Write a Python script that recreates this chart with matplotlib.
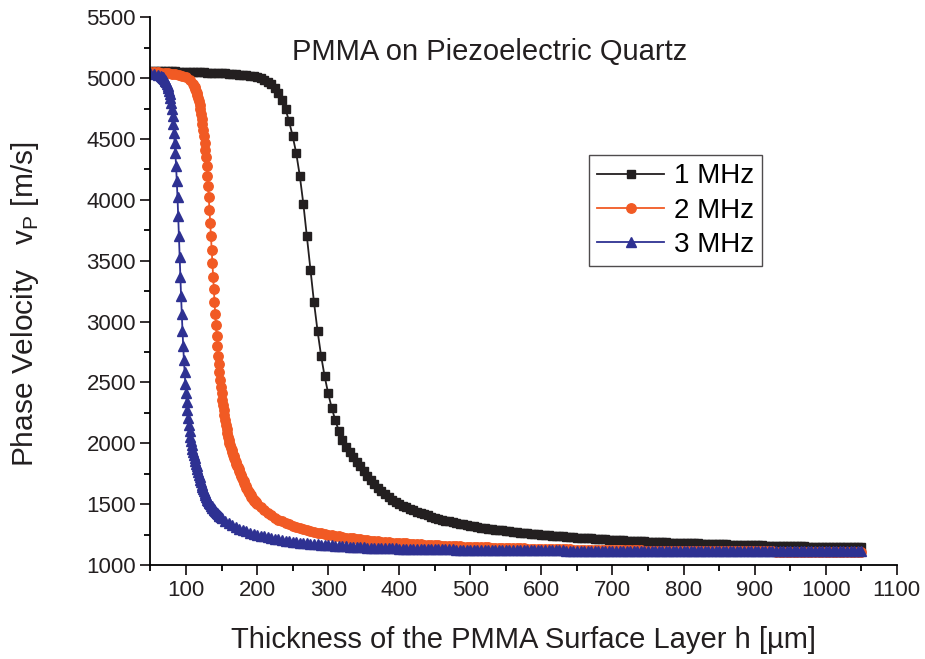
import numpy as np
import matplotlib
matplotlib.use("Agg")
import matplotlib.pyplot as plt
from matplotlib.ticker import MultipleLocator

plt.rcParams['font.family'] = ['Liberation Sans', 'DejaVu Sans']

#------------------------------------------------------------ Data ------------------------------------------------------------
# 1 MHz: sampled every 5 um from 50 to 1050 um
h_1MHz = np.arange(50, 1055, 5)
v_1MHz = [
    5058, 5058, 5057, 5057, 5056, 5056, 5055, 5055, 5054, 5053,
    5052, 5051, 5050, 5049, 5048, 5047, 5046, 5045, 5044, 5042,
    5041, 5039, 5037, 5035, 5033, 5030, 5027, 5023, 5019, 5014,
    5008, 4999, 4987, 4971, 4950, 4921, 4880, 4823, 4745, 4645,
    4525, 4385, 4200, 3970, 3700, 3424, 3160, 2925, 2720, 2550,
    2410, 2290, 2190, 2100, 2027, 1972, 1925, 1885, 1846, 1810,
    1771, 1735, 1700, 1667, 1636, 1607, 1581, 1558, 1538, 1520,
    1504, 1489, 1475, 1462, 1450, 1439, 1428, 1418, 1408, 1398,
    1389, 1381, 1373, 1365, 1358, 1351, 1345, 1339, 1333, 1327,
    1322, 1317, 1312, 1308, 1303, 1299, 1295, 1291, 1288, 1284,
    1280, 1277, 1273, 1270, 1267, 1264, 1261, 1258, 1255, 1252,
    1250, 1247, 1244, 1242, 1239, 1237, 1235, 1232, 1230, 1228,
    1226, 1224, 1222, 1220, 1218, 1216, 1214, 1212, 1211, 1209,
    1207, 1206, 1204, 1203, 1201, 1200, 1198, 1197, 1195, 1194,
    1193, 1191, 1190, 1189, 1188, 1186, 1185, 1184, 1183, 1182,
    1181, 1180, 1179, 1178, 1177, 1176, 1175, 1174, 1173, 1172,
    1171, 1170, 1169, 1168, 1167, 1167, 1166, 1165, 1164, 1163,
    1163, 1162, 1161, 1160, 1160, 1159, 1158, 1158, 1157, 1156,
    1156, 1155, 1154, 1154, 1153, 1152, 1152, 1151, 1151, 1150,
    1150, 1149, 1149, 1148, 1148, 1147, 1146, 1146, 1145, 1145,
    1145,
]

# 2 MHz: 5 um steps, 1 um steps through the steep drop (110-200 um)
h_2MHz = np.concatenate([np.arange(50, 110, 5), np.arange(110, 201, 1), np.arange(205, 1055, 5)])
v_2MHz = [
    5052, 5050, 5048, 5046, 5044, 5041, 5037, 5033, 5027, 5019, 5008, 4987,
    # 110 .. 200 (1 um)
    4950, 4939, 4927, 4914, 4898, 4880, 4859, 4836, 4810, 4780,
    4745, 4707, 4666, 4621, 4575, 4525, 4471, 4414, 4350, 4280,
    4200, 4112, 4020, 3920, 3812, 3700, 3590, 3478, 3370, 3265,
    3160, 3065, 2970, 2882, 2800, 2720, 2650, 2582, 2520, 2462,
    2410, 2360, 2313, 2270, 2229, 2190, 2152, 2117, 2085, 2055,
    2027, 2004, 1983, 1963, 1944, 1925, 1908, 1892, 1876, 1861,
    1846, 1831, 1817, 1802, 1787, 1771, 1757, 1742, 1728, 1714,
    1700, 1687, 1673, 1661, 1648, 1636, 1624, 1612, 1602, 1591,
    1581, 1572, 1562, 1553, 1545, 1538, 1530, 1523, 1517, 1510,
    1504,
    # 205 .. 1050 (5 um)
    1475, 1450, 1428, 1408, 1389,
    1373, 1358, 1345, 1333, 1322, 1312, 1303, 1295, 1288, 1280,
    1273, 1267, 1261, 1255, 1250, 1244, 1239, 1235, 1230, 1226,
    1222, 1218, 1214, 1211, 1207, 1204, 1201, 1198, 1195, 1193,
    1190, 1188, 1185, 1183, 1181, 1179, 1177, 1175, 1173, 1171,
    1169, 1167, 1166, 1164, 1163, 1161, 1160, 1158, 1157, 1156,
    1154, 1153, 1152, 1151, 1150, 1149, 1148, 1147, 1146, 1145,
    1144, 1143, 1142, 1141, 1140, 1139, 1138, 1138, 1137, 1136,
    1135, 1135, 1134, 1133, 1133, 1132, 1131, 1131, 1130, 1130,
    1129, 1128, 1128, 1127, 1127, 1126, 1126, 1125, 1125, 1124,
    1124, 1124, 1123, 1123, 1122, 1122, 1122, 1121, 1121, 1121,
    1120, 1120, 1120, 1119, 1119, 1119, 1118, 1118, 1118, 1118,
    1117, 1117, 1117, 1117, 1116, 1116, 1116, 1116, 1115, 1115,
    1115, 1115, 1115, 1114, 1114, 1114, 1114, 1114, 1113, 1113,
    1113, 1113, 1113, 1113, 1112, 1112, 1112, 1112, 1112, 1112,
    1111, 1111, 1111, 1111, 1111, 1111, 1111, 1110, 1110, 1110,
    1110, 1110, 1110, 1110, 1110, 1109, 1109, 1109, 1109, 1109,
    1109, 1109, 1108, 1108, 1108,
]

# 3 MHz: 5 um steps, 1 um steps through the steep drop (65-150 um)
h_3MHz = np.concatenate([np.arange(50, 65, 5), np.arange(65, 151, 1), np.arange(155, 1055, 5)])
v_3MHz = [
    5041, 5035, 5027,
    # 65 .. 150 (1 um)
    5014, 5011, 5006, 5001, 4994, 4987, 4978, 4967, 4954, 4939,
    4921, 4898, 4870, 4836, 4795, 4745, 4687, 4621, 4550, 4471,
    4385, 4280, 4157, 4020, 3867, 3700, 3534, 3370, 3212, 3065,
    2925, 2800, 2685, 2582, 2490, 2410, 2336, 2270, 2210, 2152,
    2100, 2055, 2015, 1983, 1953, 1925, 1900, 1876, 1853, 1831,
    1810, 1787, 1764, 1742, 1721, 1700, 1680, 1661, 1642, 1624,
    1607, 1591, 1576, 1562, 1549, 1538, 1527, 1517, 1507, 1498,
    1489, 1481, 1472, 1465, 1457, 1450, 1443, 1437, 1430, 1424,
    1418, 1412, 1406, 1400, 1394, 1389,
    # 155 .. 1050 (5 um)
    1365, 1345, 1327, 1312,
    1299, 1288, 1277, 1267, 1258, 1250, 1242, 1235, 1228, 1222,
    1216, 1211, 1206, 1201, 1197, 1193, 1189, 1185, 1182, 1179,
    1176, 1173, 1171, 1168, 1166, 1163, 1161, 1159, 1157, 1155,
    1153, 1151, 1150, 1148, 1147, 1145, 1144, 1143, 1142, 1141,
    1140, 1139, 1138, 1137, 1136, 1135, 1135, 1134, 1133, 1133,
    1132, 1132, 1131, 1131, 1130, 1130, 1129, 1129, 1128, 1128,
    1128, 1127, 1127, 1127, 1126, 1126, 1126, 1125, 1125, 1125,
    1124, 1124, 1124, 1124, 1123, 1123, 1123, 1123, 1122, 1122,
    1122, 1122, 1121, 1121, 1121, 1121, 1121, 1120, 1120, 1120,
    1120, 1120, 1119, 1119, 1119, 1119, 1119, 1119, 1118, 1118,
    1118, 1118, 1118, 1118, 1118, 1117, 1117, 1117, 1117, 1117,
    1117, 1117, 1117, 1117, 1116, 1116, 1116, 1116, 1116, 1116,
    1116, 1116, 1116, 1116, 1116, 1116, 1116, 1115, 1115, 1115,
    1115, 1115, 1115, 1115, 1115, 1115, 1115, 1115, 1115, 1114,
    1114, 1114, 1114, 1114, 1114, 1114, 1114, 1114, 1114, 1114,
    1113, 1113, 1113, 1113, 1113, 1113, 1113, 1113, 1113, 1113,
    1113, 1113, 1113, 1113, 1113, 1112, 1112, 1112, 1112, 1112,
    1112, 1112, 1112, 1112, 1112, 1112,
]

labels = ["1 MHz", "2 MHz", "3 MHz"]

#------------------------------------------------------------------ Plot ------------------------------------------------------------------
fig = plt.figure(figsize=(9.25, 6.59), dpi=100)
ax = fig.add_axes([0.1627, 0.1426, 0.8068, 0.8311])

ax.plot(h_1MHz, v_1MHz, color='#231f20', linewidth=1.3, marker='s', markersize=5.8, label=labels[0])
ax.plot(h_2MHz, v_2MHz, color='#f15a24', linewidth=1.3, marker='o', markersize=6.8, label=labels[1])
ax.plot(h_3MHz, v_3MHz, color='#2e3192', linewidth=1.3, marker='^', markersize=6.5, label=labels[2])

ax.set_xlim(50, 1100)
ax.set_ylim(1000, 5500)
ax.xaxis.set_major_locator(MultipleLocator(100))
ax.xaxis.set_minor_locator(MultipleLocator(50))
ax.yaxis.set_major_locator(MultipleLocator(500))
ax.yaxis.set_minor_locator(MultipleLocator(250))

ax.spines['top'].set_visible(False)
ax.spines['right'].set_visible(False)
ax.spines['left'].set_linewidth(1.3)
ax.spines['bottom'].set_linewidth(1.3)
ax.tick_params(which='major', direction='out', length=7, width=1.3, labelsize=16, colors='#231f20')
ax.tick_params(which='minor', direction='out', length=4, width=1.3)

ax.set_xlabel("Thickness of the PMMA Surface Layer h [\u00b5m]", fontsize=21, color='#231f20', labelpad=18)
ax.set_ylabel("Phase Velocity   v$_{\\mathregular{P}}$ [m/s]", fontsize=21.5, color='#231f20')
ax.yaxis.set_label_coords(-0.147, 0.476)

ax.text(0.455, 0.936, "PMMA on Piezoelectric Quartz", transform=ax.transAxes,
        ha='center', va='center', fontsize=21, color='#231f20')

leg = ax.legend(loc='upper left', bbox_to_anchor=(0.5876, 0.7486), fontsize=20, frameon=True,
                fancybox=False, edgecolor='#231f20', handlelength=2.4, borderpad=0.3,
                labelspacing=0.3, handletextpad=0.35, borderaxespad=0)
leg.get_frame().set_linewidth(1.0)

fig.savefig("out.png", dpi=100)
